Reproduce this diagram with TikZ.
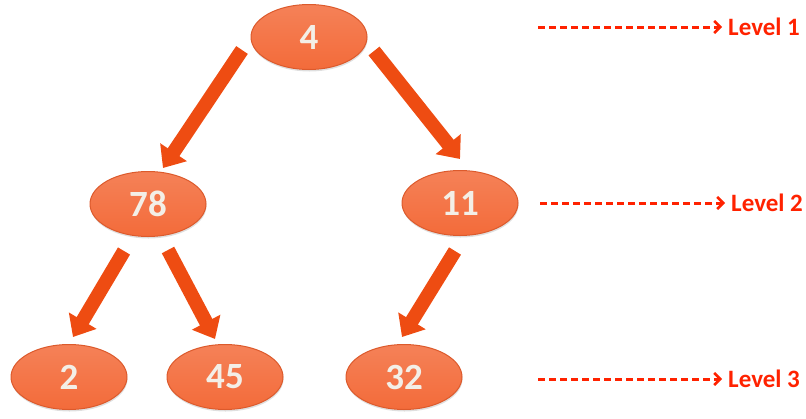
\documentclass[tikz,border=0pt]{standalone}
\usepackage{fontspec}
\setmainfont{Carlito}
\usetikzlibrary{shapes.geometric,arrows.meta,shadows}
\definecolor{nodefill}{HTML}{F36B3A}
\definecolor{nodeedge}{HTML}{DC5A2C}
\definecolor{arrowfill}{HTML}{EE4C12}
\definecolor{numtext}{HTML}{F3EFE7}
\definecolor{levelred}{HTML}{FF2200}
\tikzset{
  treenode/.style={ellipse,minimum width=116pt,minimum height=65pt,inner sep=0pt,
    top color=nodefill!85!white,bottom color=nodefill,draw=nodeedge,line width=1pt,
    drop shadow={opacity=0.25,shadow xshift=0.5pt,shadow yshift=-2pt},
    font=\fontsize{37}{42}\selectfont\bfseries,text=numtext},
  blockarrow/.style={line width=14pt,draw=arrowfill,-{Triangle[width=31pt,length=19pt]}},
  levellabel/.style={anchor=west,inner sep=2pt,text=levelred,font=\fontsize{25}{28}\selectfont\bfseries},
  levelarrow/.style={draw=levelred,line width=3pt,dash pattern=on 7pt off 4pt,
    -{Straight Barb[length=6pt,width=12pt,line width=2.6pt]},shorten >=4pt}
}
\begin{document}
\begin{tikzpicture}[x=1pt,y=-1pt,line join=round]
  \useasboundingbox (0,0) rectangle (806,418);
  \node[treenode] (n4) at (309,37) {4};
  \node[treenode] (n78) at (148,204) {78};
  \node[treenode] (n11) at (460,203) {11};
  \node[treenode] (n2) at (69,377) {2};
  \node[treenode] (n45) at (225,377) {45};
  \node[treenode] (n32) at (404,377) {32};
  \draw[blockarrow] ([shift={(-67,13)}]n4.center) -- ([shift={(15,-36)}]n78.center);
  \draw[blockarrow] ([shift={(65,14)}]n4.center) -- ([shift={(0,-44)}]n11.center);
  \draw[blockarrow] ([shift={(-24,47)}]n78.center) -- ([shift={(4,-40)}]n2.center);
  \draw[blockarrow] ([shift={(20,46)}]n78.center) -- ([shift={(-10,-38)}]n45.center);
  \draw[blockarrow] ([shift={(-5,48)}]n11.center) -- ([shift={(-2,-40)}]n32.center);
  \node[levellabel] (l1) at (726,27) {Level 1};
  \node[levellabel] (l2) at (729,203) {Level 2};
  \node[levellabel] (l3) at (726,379) {Level 3};
  \coordinate (s1) at (538,27);
  \coordinate (s2) at (540,203);
  \coordinate (s3) at (538,379);
  \draw[levelarrow] (s1) -- (l1.west);
  \draw[levelarrow] (s2) -- (l2.west);
  \draw[levelarrow] (s3) -- (l3.west);
\end{tikzpicture}
\end{document}
